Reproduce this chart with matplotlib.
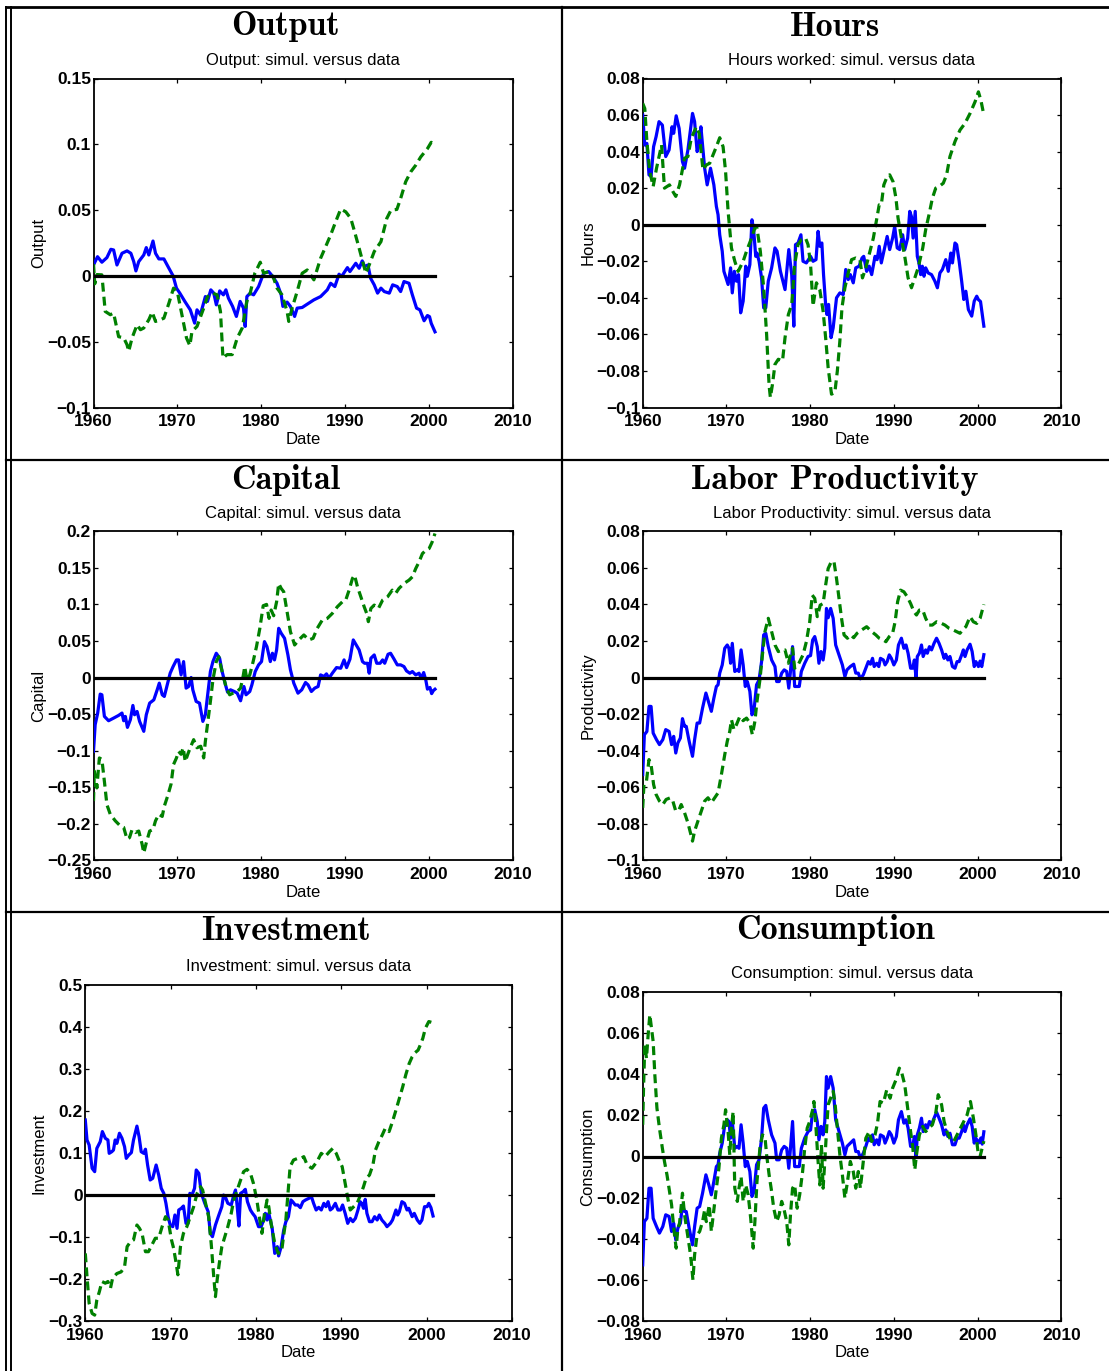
import os
import numpy as np
import matplotlib
matplotlib.use("Agg")
import matplotlib.pyplot as plt
from matplotlib.font_manager import FontProperties
from matplotlib.lines import Line2D
from matplotlib.ticker import FuncFormatter

# ---------------------------------------------------------------- data
# (year, deviation) pairs; blue = simulated model, green = data
output_sim = [
    (1960.0, 0.0083), (1960.48, 0.0146), (1961.0, 0.0104), (1961.6, 0.0139), (1962.07, 0.0202),
    (1962.4, 0.0197), (1962.8, 0.0083), (1963.4, 0.0172), (1964.0, 0.0190), (1964.46, 0.0172),
    (1964.8, 0.0109), (1965.06, 0.0038), (1965.4, 0.0109), (1966.0, 0.0159), (1966.3, 0.0215),
    (1966.6, 0.0159), (1967.1, 0.0265), (1967.4, 0.0172), (1967.8, 0.0129), (1968.4, 0.0129),
    (1969.0, 0.0058), (1969.5, 0.0000), (1969.9, -0.0093), (1970.3, -0.0131), (1970.9, -0.0194),
    (1971.55, -0.0258), (1972.07, -0.0359), (1972.35, -0.0258), (1972.75, -0.0295), (1973.35, -0.0157),
    (1973.6, -0.0194), (1974.0, -0.0106), (1974.35, -0.0131), (1974.66, -0.0220), (1975.06, -0.0114),
    (1975.5, -0.0144), (1975.8, -0.0106), (1976.1, -0.0169), (1976.6, -0.0232), (1977.05, -0.0308),
    (1977.5, -0.0194), (1977.9, -0.0245), (1978.1, -0.0384), (1978.3, -0.0157), (1978.7, -0.0131),
    (1979.1, -0.0144), (1979.7, -0.0081), (1980.3, 0.0020), (1980.9, 0.0033), (1981.4, -0.0005),
    (1981.9, -0.0056), (1982.4, -0.0144), (1982.6, -0.0232), (1983.1, -0.0199), (1983.5, -0.0232),
    (1984.0, -0.0308), (1984.3, -0.0245), (1984.9, -0.0240), (1985.5, -0.0215), (1986.3, -0.0182),
    (1987.1, -0.0157), (1987.9, -0.0106), (1988.3, -0.0056), (1988.8, -0.0081), (1989.3, 0.0013),
    (1989.6, -0.0005), (1990.3, 0.0063), (1990.6, 0.0033), (1991.3, 0.0096), (1991.7, 0.0058),
    (1992.07, 0.0114), (1992.35, 0.0071), (1992.75, 0.0083), (1993.07, -0.0018), (1993.5, -0.0068),
    (1993.9, -0.0131), (1994.3, -0.0093), (1994.7, -0.0119), (1995.3, -0.0131), (1995.7, -0.0068),
    (1996.25, -0.0081), (1996.65, -0.0119), (1997.05, -0.0043), (1997.65, -0.0056), (1998.05, -0.0144),
    (1998.55, -0.0245), (1998.95, -0.0258), (1999.45, -0.0341), (1999.85, -0.0301), (2000.1, -0.0310),
    (2000.3, -0.0360), (2000.75, -0.0425),
]
output_data = [
    (1960.0, 0.009), (1960.15, -0.006), (1960.4, 0.001), (1961.0, 0.0008), (1961.4, -0.0270),
    (1962.0, -0.0295), (1962.4, -0.0283), (1963.0, -0.0462), (1963.6, -0.0470), (1964.0, -0.0523),
    (1964.2, -0.0573), (1964.6, -0.0472), (1965.2, -0.0371), (1965.6, -0.0409), (1966.0, -0.0396),
    (1966.6, -0.0333), (1967.0, -0.0275), (1967.4, -0.0346), (1968.0, -0.0333), (1968.4, -0.0321),
    (1969.0, -0.0207), (1969.55, -0.0093), (1970.0, -0.0119), (1970.55, -0.0295), (1971.1, -0.0472),
    (1971.5, -0.0530), (1971.75, -0.0422), (1972.35, -0.0384), (1973.15, -0.0245), (1973.6, -0.0157),
    (1974.25, -0.0131), (1974.75, -0.0144), (1975.15, -0.0270), (1975.45, -0.0624), (1975.95, -0.0598),
    (1976.55, -0.0598), (1977.15, -0.0472), (1977.75, -0.0396), (1978.3, -0.0194), (1978.7, -0.0131),
    (1979.25, 0.0020), (1979.9, 0.0104), (1980.3, 0.0020), (1981.0, 0.0033), (1981.5, -0.0018),
    (1981.9, -0.0093), (1982.5, -0.0144), (1983.1, -0.0270), (1983.3, -0.0346), (1983.7, -0.0245),
    (1984.3, -0.0119), (1984.9, 0.0020), (1985.5, 0.0045), (1985.9, 0.0008), (1986.3, -0.0030),
    (1987.1, 0.0134), (1987.7, 0.0222), (1988.3, 0.0311), (1988.9, 0.0412), (1989.5, 0.0508),
    (1990.1, 0.0487), (1990.7, 0.0437), (1991.1, 0.0349), (1991.7, 0.0210), (1992.07, 0.0121),
    (1992.5, 0.0020), (1992.9, 0.0083), (1993.5, 0.0185), (1994.3, 0.0260), (1995.0, 0.0437),
    (1995.5, 0.0500), (1996.2, 0.0505), (1996.65, 0.0588), (1997.25, 0.0715), (1997.85, 0.0790),
    (1998.45, 0.0841), (1999.05, 0.0904), (1999.85, 0.0967), (2000.3, 0.1015), (2000.75, 0.0995),
]

hours_sim = [
    (1960.0, 0.060), (1960.25, 0.0436), (1960.5, 0.0445), (1960.75, 0.0273), (1961.0, 0.0264),
    (1961.3, 0.0427), (1961.6, 0.0482), (1961.95, 0.0564), (1962.35, 0.0545), (1962.75, 0.0373),
    (1963.15, 0.0409), (1963.5, 0.0536), (1963.7, 0.0500), (1964.0, 0.0596), (1964.35, 0.0527),
    (1964.75, 0.0345), (1965.0, 0.0309), (1965.4, 0.0409), (1965.95, 0.0609), (1966.2, 0.0564),
    (1966.5, 0.0400), (1966.75, 0.0445), (1966.95, 0.0536), (1967.2, 0.0409), (1967.4, 0.0309),
    (1967.7, 0.0218), (1968.1, 0.0309), (1968.5, 0.0218), (1968.8, 0.0100), (1969.0, 0.0055),
    (1969.2, -0.0055), (1969.5, -0.0145), (1969.7, -0.0255), (1970.2, -0.0327), (1970.5, -0.0236),
    (1970.7, -0.0373), (1970.95, -0.0255), (1971.2, -0.0309), (1971.45, -0.0273), (1971.7, -0.0482),
    (1972.0, -0.0418), (1972.3, -0.0227), (1972.5, -0.0282), (1972.8, -0.0218), (1973.05, 0.0027),
    (1973.25, -0.0027), (1973.5, -0.0173), (1973.65, -0.0155), (1973.9, -0.0200), (1974.2, -0.0291),
    (1974.45, -0.0455), (1974.7, -0.0455), (1975.0, -0.0309), (1975.4, -0.0236), (1975.8, -0.0127),
    (1976.05, -0.0145), (1976.45, -0.0255), (1977.0, -0.0355), (1977.45, -0.0136), (1977.8, -0.0273),
    (1978.05, -0.0555), (1978.25, -0.0109), (1978.55, -0.0100), (1978.9, -0.0055), (1979.15, -0.0200),
    (1979.55, -0.0209), (1980.05, -0.0173), (1980.35, -0.0200), (1980.7, -0.0191), (1980.95, -0.0036),
    (1981.15, -0.0118), (1981.4, -0.0100), (1981.6, -0.0273), (1981.85, -0.0436), (1982.0, -0.0491),
    (1982.2, -0.0436), (1982.5, -0.0618), (1982.75, -0.0564), (1983.15, -0.0400), (1983.55, -0.0373),
    (1983.95, -0.0382), (1984.25, -0.0245), (1984.55, -0.0300), (1984.8, -0.0273), (1985.15, -0.0318),
    (1985.45, -0.0236), (1985.85, -0.0227), (1986.2, -0.0182), (1986.4, -0.0173), (1986.75, -0.0255),
    (1987.05, -0.0227), (1987.35, -0.0273), (1987.75, -0.0173), (1988.0, -0.0191), (1988.25, -0.0118),
    (1988.5, -0.0209), (1988.85, -0.0136), (1989.2, -0.0064), (1989.5, -0.0136), (1989.85, -0.0073),
    (1990.1, -0.0009), (1990.4, -0.0127), (1990.7, -0.0136), (1991.05, -0.0055), (1991.3, -0.0136),
    (1991.65, -0.0073), (1991.9, 0.0073), (1992.1, 0.0045), (1992.3, -0.0073), (1992.55, 0.0073),
    (1992.8, -0.0173), (1993.0, -0.0209), (1993.2, -0.0273), (1993.4, -0.0227), (1993.6, -0.0282),
    (1993.8, -0.0236), (1994.1, -0.0264), (1994.5, -0.0273), (1994.9, -0.0309), (1995.2, -0.0345),
    (1995.5, -0.0264), (1995.8, -0.0245), (1996.2, -0.0191), (1996.5, -0.0255), (1996.8, -0.0155),
    (1997.0, -0.0209), (1997.3, -0.0100), (1997.5, -0.0109), (1997.8, -0.0200), (1998.1, -0.0309),
    (1998.35, -0.0409), (1998.6, -0.0364), (1998.9, -0.0464), (1999.3, -0.0500), (1999.6, -0.0418),
    (1999.9, -0.0391), (2000.1, -0.0410), (2000.35, -0.0420), (2000.75, -0.0555),
]
hours_data = [
    (1960.0, 0.0664), (1960.25, 0.0636), (1960.5, 0.0455), (1960.85, 0.0291), (1961.25, 0.0209),
    (1961.65, 0.0309), (1962.25, 0.0436), (1962.6, 0.0200), (1963.2, 0.0218), (1963.6, 0.0182),
    (1963.95, 0.0155), (1964.4, 0.0218), (1965.0, 0.0364), (1965.4, 0.0373), (1965.8, 0.0473),
    (1966.4, 0.0536), (1966.75, 0.0500), (1967.2, 0.0300), (1967.6, 0.0327), (1968.0, 0.0336),
    (1968.4, 0.0382), (1968.8, 0.0427), (1969.2, 0.0476), (1969.6, 0.0427), (1969.9, 0.0291),
    (1970.2, 0.0073), (1970.6, -0.0127), (1971.0, -0.0200), (1971.4, -0.0255), (1972.0, -0.0200),
    (1972.4, -0.0145), (1973.0, -0.0073), (1973.4, -0.0018), (1973.65, -0.0018), (1974.05, -0.0145),
    (1974.45, -0.0345), (1974.8, -0.0600), (1975.1, -0.0882), (1975.25, -0.0945), (1975.5, -0.0873),
    (1975.8, -0.0764), (1976.2, -0.0736), (1976.7, -0.0745), (1977.0, -0.0618), (1977.4, -0.0491),
    (1977.8, -0.0436), (1978.15, -0.0218), (1978.55, -0.0109), (1978.95, -0.0082), (1979.45, -0.0073),
    (1979.75, -0.0109), (1980.05, -0.0218), (1980.35, -0.0445), (1980.75, -0.0318), (1981.15, -0.0355),
    (1981.55, -0.0473), (1981.85, -0.0618), (1982.15, -0.0782), (1982.55, -0.0927), (1982.95, -0.0918),
    (1983.25, -0.0800), (1983.55, -0.0636), (1983.8, -0.0455), (1984.15, -0.0345), (1984.55, -0.0264),
    (1984.95, -0.0191), (1985.45, -0.0182), (1985.95, -0.0191), (1986.25, -0.0291), (1986.65, -0.0236),
    (1987.15, -0.0145), (1987.55, -0.0073), (1987.9, 0.0018), (1988.25, 0.0109), (1988.5, 0.0109),
    (1988.8, 0.0218), (1989.2, 0.0264), (1989.5, 0.0273), (1989.9, 0.0236), (1990.25, 0.0145),
    (1990.5, 0.0036), (1990.9, -0.0073), (1991.3, -0.0173), (1991.7, -0.0291), (1992.1, -0.0345),
    (1992.5, -0.0291), (1992.9, -0.0236), (1993.45, -0.0127), (1993.8, -0.0027), (1994.2, 0.0055),
    (1994.6, 0.0145), (1995.0, 0.0200), (1995.4, 0.0209), (1995.9, 0.0227), (1996.3, 0.0273),
    (1996.7, 0.0373), (1997.3, 0.0455), (1997.9, 0.0518), (1998.5, 0.0555), (1999.1, 0.0609),
    (1999.7, 0.0673), (2000.1, 0.0727), (2000.4, 0.0680), (2000.75, 0.0600),
]

capital_sim = [
    (1960.0, -0.101), (1960.2, -0.0645), (1960.5, -0.0486), (1960.8, -0.0227), (1961.0, -0.0236),
    (1961.3, -0.0532), (1961.8, -0.0591), (1962.4, -0.0555), (1963.0, -0.0518), (1963.4, -0.0486),
    (1963.6, -0.0591), (1963.8, -0.0532), (1964.05, -0.0682), (1964.4, -0.0577), (1964.7, -0.0382),
    (1964.9, -0.0509), (1965.2, -0.0464), (1965.5, -0.0600), (1966.0, -0.0736), (1966.3, -0.0509),
    (1966.7, -0.0350), (1967.2, -0.0305), (1967.6, -0.0168), (1967.85, -0.0077), (1968.2, -0.0236),
    (1968.45, -0.0259), (1968.85, -0.0077), (1969.15, 0.0059), (1969.5, 0.0150), (1969.9, 0.0241),
    (1970.15, 0.0241), (1970.45, 0.0036), (1970.75, 0.0218), (1971.05, -0.0145), (1971.35, -0.0123),
    (1971.65, 0.0000), (1971.85, -0.0168), (1972.25, -0.0327), (1972.65, -0.0350), (1973.05, -0.0600),
    (1973.35, -0.0509), (1973.6, -0.0259), (1973.95, 0.0082), (1974.25, 0.0218), (1974.65, 0.0332),
    (1975.05, 0.0264), (1975.35, 0.0082), (1975.75, -0.0100), (1976.0, -0.0200), (1976.35, -0.0168),
    (1976.8, -0.0191), (1977.15, -0.0214), (1977.55, -0.0318), (1977.95, -0.0123), (1978.2, -0.0236),
    (1978.65, -0.0191), (1978.9, -0.0100), (1979.3, 0.0082), (1979.7, 0.0173), (1980.05, 0.0218),
    (1980.4, 0.0491), (1980.7, 0.0423), (1981.1, 0.0218), (1981.35, 0.0332), (1981.6, 0.0241),
    (1981.85, 0.0377), (1982.1, 0.0673), (1982.4, 0.0605), (1982.8, 0.0536), (1983.2, 0.0309),
    (1983.5, 0.0105), (1983.9, -0.0077), (1984.4, -0.0214), (1984.85, -0.0168), (1985.3, -0.0068),
    (1985.6, -0.0100), (1986.0, -0.0191), (1986.4, -0.0145), (1986.8, -0.0123), (1987.1, 0.0036),
    (1987.5, 0.0014), (1987.8, 0.0050), (1988.1, -0.0009), (1988.5, 0.0059), (1989.0, 0.0136),
    (1989.5, 0.0127), (1989.9, 0.0241), (1990.2, 0.0136), (1990.6, 0.0250), (1991.0, 0.0514),
    (1991.3, 0.0455), (1991.7, 0.0377), (1992.1, 0.0218), (1992.35, 0.0195), (1992.7, 0.0195),
    (1992.9, 0.0059), (1993.1, 0.0264), (1993.5, 0.0309), (1993.8, 0.0195), (1994.2, 0.0195),
    (1994.5, 0.0241), (1994.75, 0.0195), (1995.15, 0.0318), (1995.45, 0.0332), (1995.85, 0.0255),
    (1996.25, 0.0173), (1996.65, 0.0173), (1997.05, 0.0150), (1997.35, 0.0091), (1997.75, 0.0059),
    (1998.05, 0.0082), (1998.45, 0.0036), (1998.85, 0.0059), (1999.1, -0.0009), (1999.4, 0.0068),
    (1999.65, -0.0032), (1999.85, -0.0159), (2000.15, -0.0136), (2000.35, -0.0220), (2000.55, -0.0180),
    (2000.75, -0.0160),
]
capital_data = [
    (1960.0, -0.169), (1960.1, -0.128), (1960.4, -0.151), (1960.7, -0.110), (1961.0, -0.112),
    (1961.3, -0.142), (1961.6, -0.174), (1962.0, -0.187), (1962.6, -0.196), (1963.2, -0.203),
    (1963.6, -0.205), (1964.0, -0.221), (1964.3, -0.219), (1964.6, -0.208), (1965.0, -0.212),
    (1965.4, -0.210), (1965.8, -0.228), (1966.0, -0.240), (1966.3, -0.226), (1966.7, -0.210),
    (1967.1, -0.208), (1967.4, -0.196), (1967.8, -0.187), (1968.2, -0.190), (1968.45, -0.176),
    (1968.85, -0.162), (1969.25, -0.146), (1969.55, -0.119), (1969.9, -0.110), (1970.15, -0.101),
    (1970.45, -0.105), (1970.7, -0.096), (1970.95, -0.115), (1971.25, -0.105), (1971.55, -0.096),
    (1971.95, -0.085), (1972.35, -0.096), (1972.8, -0.094), (1973.15, -0.110), (1973.35, -0.087),
    (1973.6, -0.0645), (1973.95, -0.0327), (1974.25, -0.0032), (1974.65, 0.0218), (1974.95, 0.0286),
    (1975.2, 0.0150), (1975.55, -0.0009), (1975.85, -0.0145), (1976.25, -0.0236), (1976.65, -0.0214),
    (1977.15, -0.0191), (1977.55, -0.0145), (1977.85, 0.0014), (1978.05, 0.0150), (1978.3, -0.0032),
    (1978.65, 0.0036), (1979.05, 0.0218), (1979.45, 0.0423), (1979.85, 0.0673), (1980.25, 0.0982),
    (1980.65, 0.1000), (1980.95, 0.0809), (1981.2, 0.0923), (1981.5, 0.0845), (1981.85, 0.1036),
    (1982.1, 0.1286), (1982.4, 0.1218), (1982.7, 0.1173), (1983.1, 0.0900), (1983.5, 0.0627),
    (1984.0, 0.0445), (1984.5, 0.0514), (1985.1, 0.0582), (1985.7, 0.0514), (1986.2, 0.0536),
    (1986.7, 0.0673), (1987.3, 0.0786), (1987.9, 0.0809), (1988.5, 0.0877), (1989.1, 0.0968),
    (1989.7, 0.1036), (1990.1, 0.1059), (1990.5, 0.1195), (1990.9, 0.1355), (1991.15, 0.1400),
    (1991.5, 0.1241), (1991.9, 0.1105), (1992.3, 0.0968), (1992.6, 0.0877), (1992.8, 0.0764),
    (1993.1, 0.0945), (1993.5, 0.0991), (1994.0, 0.0945), (1994.5, 0.1059), (1995.1, 0.1105),
    (1995.65, 0.1195), (1996.05, 0.1150), (1996.45, 0.1218), (1997.05, 0.1286), (1997.65, 0.1332),
    (1998.05, 0.1377), (1998.45, 0.1490), (1998.85, 0.1582), (1999.25, 0.1695), (1999.65, 0.1740),
    (2000.05, 0.1764), (2000.4, 0.1850), (2000.75, 0.1970),
]

productivity_sim = [
    (1960.0, -0.0531), (1960.2, -0.0313), (1960.5, -0.0295), (1960.75, -0.0158), (1961.0, -0.0158),
    (1961.25, -0.0304), (1961.65, -0.0340), (1962.0, -0.0367), (1962.4, -0.0340), (1962.75, -0.0285),
    (1963.15, -0.0295), (1963.45, -0.0367), (1963.7, -0.0322), (1963.95, -0.0413), (1964.2, -0.0358),
    (1964.5, -0.0331), (1964.75, -0.0225), (1965.0, -0.0267), (1965.2, -0.0267), (1965.55, -0.0349),
    (1965.95, -0.0431), (1966.2, -0.0340), (1966.5, -0.0249), (1966.8, -0.0249), (1967.15, -0.0167),
    (1967.55, -0.0085), (1967.9, -0.0140), (1968.2, -0.0185), (1968.5, -0.0113), (1968.8, -0.0049),
    (1969.0, -0.0040), (1969.2, 0.0024), (1969.5, 0.0069), (1969.8, 0.0160), (1970.1, 0.0178),
    (1970.3, 0.0160), (1970.5, 0.0078), (1970.7, 0.0187), (1971.0, 0.0033), (1971.3, 0.0042),
    (1971.5, 0.0033), (1971.75, 0.0151), (1972.0, 0.0069), (1972.25, -0.0049), (1972.5, -0.0022),
    (1972.8, -0.0076), (1973.05, -0.0204), (1973.3, -0.0176), (1973.6, -0.0040), (1973.9, -0.0013),
    (1974.2, 0.0087), (1974.45, 0.0233), (1974.7, 0.0242), (1975.0, 0.0169), (1975.4, 0.0096),
    (1975.8, 0.0060), (1976.0, -0.0022), (1976.3, -0.0022), (1976.6, 0.0024), (1976.9, 0.0042),
    (1977.2, 0.0033), (1977.45, -0.0058), (1977.65, 0.0033), (1977.9, 0.0169), (1978.15, -0.0049),
    (1978.35, -0.0049), (1978.7, -0.0049), (1978.95, 0.0033), (1979.35, 0.0078), (1979.75, 0.0115),
    (1980.05, 0.0120), (1980.3, 0.0205), (1980.55, 0.0224), (1980.85, 0.0169), (1981.05, 0.0078),
    (1981.3, 0.0142), (1981.55, 0.0096), (1981.75, 0.0160), (1981.95, 0.0378), (1982.15, 0.0327),
    (1982.45, 0.0378), (1982.75, 0.0324), (1983.05, 0.0178), (1983.45, 0.0124), (1983.85, 0.0069),
    (1984.15, 0.0005), (1984.4, 0.0042), (1984.8, 0.0060), (1985.2, 0.0073), (1985.45, 0.0024),
    (1985.75, 0.0024), (1986.0, -0.0007), (1986.35, 0.0015), (1986.65, 0.0051), (1986.95, 0.0087),
    (1987.2, 0.0073), (1987.45, 0.0105), (1987.65, 0.0060), (1987.95, 0.0078), (1988.2, 0.0060),
    (1988.4, 0.0105), (1988.75, 0.0096), (1988.95, 0.0069), (1989.2, 0.0087), (1989.45, 0.0124),
    (1989.7, 0.0105), (1990.0, 0.0069), (1990.3, 0.0096), (1990.55, 0.0178), (1990.9, 0.0215),
    (1991.2, 0.0160), (1991.45, 0.0178), (1991.7, 0.0133), (1992.0, 0.0051), (1992.25, 0.0051),
    (1992.45, 0.0096), (1992.65, -0.0004), (1992.8, 0.0115), (1993.05, 0.0133), (1993.3, 0.0178),
    (1993.5, 0.0115), (1993.8, 0.0151), (1994.0, 0.0133), (1994.25, 0.0169), (1994.5, 0.0151),
    (1994.8, 0.0187), (1995.1, 0.0215), (1995.4, 0.0187), (1995.7, 0.0151), (1996.0, 0.0105),
    (1996.2, 0.0127), (1996.45, 0.0096), (1996.7, 0.0115), (1997.0, 0.0060), (1997.3, 0.0051),
    (1997.55, 0.0087), (1997.8, 0.0087), (1998.1, 0.0124), (1998.3, 0.0151), (1998.5, 0.0115),
    (1998.75, 0.0151), (1999.1, 0.0182), (1999.35, 0.0142), (1999.6, 0.0060), (1999.8, 0.0087),
    (2000.1, 0.0060), (2000.3, 0.0090), (2000.5, 0.0060), (2000.75, 0.0125),
]
productivity_data = [
    (1960.0, -0.0713), (1960.15, -0.0585), (1960.45, -0.0567), (1960.75, -0.0449), (1961.0, -0.0476),
    (1961.3, -0.0585), (1961.6, -0.0640), (1962.0, -0.0676), (1962.4, -0.0695), (1962.8, -0.0667),
    (1963.3, -0.0658), (1963.6, -0.0676), (1963.95, -0.0731), (1964.35, -0.0722), (1964.6, -0.0695),
    (1965.0, -0.0740), (1965.4, -0.0795), (1965.7, -0.0849), (1965.95, -0.0895), (1966.2, -0.0840),
    (1966.6, -0.0785), (1967.0, -0.0731), (1967.4, -0.0676), (1967.8, -0.0658), (1968.2, -0.0685),
    (1968.6, -0.0658), (1969.0, -0.0631), (1969.4, -0.0531), (1969.8, -0.0422), (1970.1, -0.0349),
    (1970.4, -0.0295), (1970.6, -0.0231), (1970.9, -0.0285), (1971.2, -0.0258), (1971.6, -0.0213),
    (1972.0, -0.0236), (1972.4, -0.0222), (1972.8, -0.0249), (1973.1, -0.0313), (1973.4, -0.0240),
    (1973.65, -0.0131), (1974.0, -0.0013), (1974.3, 0.0124), (1974.6, 0.0251), (1975.0, 0.0324),
    (1975.4, 0.0251), (1975.8, 0.0178), (1976.2, 0.0142), (1976.6, 0.0151), (1977.0, 0.0151),
    (1977.4, 0.0078), (1977.65, 0.0124), (1977.9, 0.0160), (1978.15, 0.0051), (1978.45, 0.0060),
    (1978.75, 0.0087), (1979.15, 0.0124), (1979.55, 0.0196), (1979.95, 0.0305), (1980.25, 0.0451),
    (1980.55, 0.0433), (1980.85, 0.0333), (1981.2, 0.0396), (1981.55, 0.0405), (1981.85, 0.0505),
    (1982.15, 0.0596), (1982.55, 0.0636), (1982.85, 0.0633), (1983.15, 0.0542), (1983.45, 0.0433),
    (1983.75, 0.0324), (1984.05, 0.0233), (1984.45, 0.0215), (1984.85, 0.0233), (1985.2, 0.0218),
    (1985.6, 0.0242), (1986.15, 0.0260), (1986.75, 0.0278), (1987.35, 0.0251), (1987.85, 0.0233),
    (1988.25, 0.0215), (1988.75, 0.0205), (1989.05, 0.0196), (1989.45, 0.0224), (1989.85, 0.0242),
    (1990.15, 0.0305), (1990.45, 0.0415), (1990.8, 0.0478), (1991.2, 0.0469), (1991.6, 0.0442),
    (1992.0, 0.0405), (1992.4, 0.0360), (1992.7, 0.0342), (1993.05, 0.0369), (1993.45, 0.0369),
    (1993.8, 0.0324), (1994.2, 0.0287), (1994.6, 0.0287), (1995.1, 0.0305), (1995.7, 0.0296),
    (1996.1, 0.0287), (1996.6, 0.0269), (1997.1, 0.0260), (1997.5, 0.0251), (1997.9, 0.0242),
    (1998.2, 0.0260), (1998.6, 0.0278), (1999.1, 0.0333), (1999.5, 0.0305), (1999.9, 0.0296),
    (2000.3, 0.0324), (2000.75, 0.0400),
]

investment_sim = [
    (1960.0, 0.1786), (1960.2, 0.131), (1960.45, 0.119), (1960.8, 0.0635), (1961.1, 0.0556),
    (1961.35, 0.111), (1961.75, 0.127), (1962.0, 0.151), (1962.35, 0.135), (1962.65, 0.131),
    (1962.8, 0.0992), (1963.1, 0.103), (1963.3, 0.107), (1963.5, 0.131), (1963.7, 0.123),
    (1964.0, 0.147), (1964.3, 0.135), (1964.6, 0.115), (1964.8, 0.0873), (1965.1, 0.0952),
    (1965.4, 0.101), (1965.65, 0.131), (1966.05, 0.164), (1966.3, 0.139), (1966.55, 0.103),
    (1966.85, 0.0992), (1967.05, 0.109), (1967.3, 0.0714), (1967.6, 0.0357), (1967.9, 0.0397),
    (1968.3, 0.0714), (1968.6, 0.0476), (1968.9, 0.0159), (1969.2, 0.0040), (1969.45, -0.0198),
    (1969.7, -0.0516), (1969.95, -0.0714), (1970.25, -0.0754), (1970.5, -0.0476), (1970.75, -0.0794),
    (1970.95, -0.0357), (1971.25, -0.0317), (1971.5, -0.0262), (1971.8, -0.0675), (1972.05, -0.0675),
    (1972.25, 0.0040), (1972.5, 0.0000), (1972.8, 0.0159), (1973.0, 0.0595), (1973.3, 0.0516),
    (1973.6, 0.0040), (1974.0, -0.0198), (1974.4, -0.0397), (1974.65, -0.0913), (1974.9, -0.0992),
    (1975.25, -0.0714), (1975.65, -0.0476), (1976.0, -0.0278), (1976.2, 0.0000), (1976.4, -0.0040),
    (1976.7, -0.0198), (1977.1, -0.0238), (1977.4, 0.0000), (1977.6, 0.0119), (1977.8, -0.0278),
    (1978.0, -0.0738), (1978.2, 0.0040), (1978.5, 0.0079), (1978.75, 0.0135), (1979.0, -0.0159),
    (1979.35, -0.0357), (1979.6, -0.0437), (1979.9, -0.0516), (1980.3, -0.0754), (1980.6, -0.0754),
    (1980.9, -0.0595), (1981.1, -0.0437), (1981.3, -0.0595), (1981.5, -0.0437), (1981.9, -0.0794),
    (1982.2, -0.139), (1982.5, -0.123), (1982.65, -0.145), (1982.95, -0.123), (1983.25, -0.0833),
    (1983.5, -0.0635), (1983.8, -0.0516), (1984.1, -0.0119), (1984.3, -0.0159), (1984.6, -0.0238),
    (1984.9, -0.0238), (1985.2, -0.0302), (1985.5, -0.0159), (1985.8, -0.0119), (1986.2, -0.0079),
    (1986.5, -0.0040), (1986.75, -0.0198), (1987.05, -0.0357), (1987.35, -0.0294), (1987.65, -0.0357),
    (1987.95, -0.0198), (1988.2, -0.0278), (1988.45, -0.0159), (1988.7, -0.0357), (1988.95, -0.0317),
    (1989.3, -0.0198), (1989.6, -0.0357), (1989.9, -0.0357), (1990.15, -0.0238), (1990.45, -0.0437),
    (1990.75, -0.0675), (1991.05, -0.0556), (1991.35, -0.0635), (1991.65, -0.0556), (1991.95, -0.0357),
    (1992.2, -0.0159), (1992.4, -0.0198), (1992.6, -0.0317), (1992.8, -0.0103), (1993.0, -0.0437),
    (1993.3, -0.0635), (1993.6, -0.0635), (1993.9, -0.0516), (1994.2, -0.0595), (1994.45, -0.0476),
    (1994.75, -0.0595), (1995.1, -0.0675), (1995.35, -0.0754), (1995.75, -0.0675), (1996.0, -0.0595),
    (1996.4, -0.0357), (1996.6, -0.0476), (1996.8, -0.0397), (1997.1, -0.0159), (1997.4, -0.0198),
    (1997.7, -0.0357), (1997.9, -0.0317), (1998.3, -0.0516), (1998.55, -0.0437), (1998.9, -0.0595),
    (1999.2, -0.0675), (1999.45, -0.0595), (1999.75, -0.0278), (2000.05, -0.0278), (2000.25, -0.0198),
    (2000.5, -0.0300), (2000.75, -0.0500),
]
investment_data = [
    (1960.0, -0.139), (1960.2, -0.194), (1960.45, -0.258), (1960.8, -0.282), (1961.1, -0.286),
    (1961.35, -0.250), (1961.65, -0.230), (1961.95, -0.206), (1962.35, -0.210), (1962.65, -0.206),
    (1962.95, -0.222), (1963.2, -0.198), (1963.7, -0.187), (1964.2, -0.183), (1964.6, -0.171),
    (1964.9, -0.123), (1965.3, -0.111), (1965.65, -0.107), (1966.05, -0.0714), (1966.35, -0.0794),
    (1966.65, -0.0913), (1967.05, -0.135), (1967.4, -0.135), (1967.8, -0.119), (1968.2, -0.103),
    (1968.6, -0.103), (1969.0, -0.0754), (1969.4, -0.0516), (1969.7, -0.0595), (1970.1, -0.107),
    (1970.35, -0.127), (1970.65, -0.163), (1970.85, -0.190), (1971.15, -0.123), (1971.5, -0.0913),
    (1971.9, -0.0754), (1972.3, -0.0516), (1972.7, -0.0278), (1973.1, 0.0040), (1973.5, 0.0198),
    (1973.75, 0.0119), (1974.05, -0.0159), (1974.45, -0.0516), (1974.75, -0.115), (1975.05, -0.194),
    (1975.25, -0.242), (1975.45, -0.202), (1975.7, -0.163), (1976.0, -0.123), (1976.35, -0.0992),
    (1976.7, -0.0754), (1977.1, -0.0437), (1977.4, -0.0119), (1977.8, 0.0119), (1978.2, 0.0357),
    (1978.55, 0.0556), (1978.95, 0.0611), (1979.35, 0.0516), (1979.7, 0.0278), (1980.1, -0.0119),
    (1980.45, -0.0595), (1980.7, -0.0913), (1981.0, -0.0437), (1981.3, -0.0119), (1981.5, -0.0278),
    (1981.8, -0.0714), (1982.2, -0.115), (1982.6, -0.139), (1983.0, -0.135), (1983.25, -0.0952),
    (1983.5, -0.0595), (1983.75, 0.0040), (1984.0, 0.0675), (1984.4, 0.0833), (1984.9, 0.0873),
    (1985.3, 0.0873), (1985.6, 0.0913), (1986.0, 0.0714), (1986.55, 0.0635), (1987.15, 0.0794),
    (1987.65, 0.0992), (1988.1, 0.0913), (1988.6, 0.103), (1989.0, 0.111), (1989.4, 0.0992),
    (1989.8, 0.0794), (1990.1, 0.0675), (1990.45, 0.0278), (1990.8, -0.0119), (1991.05, -0.0357),
    (1991.45, -0.0278), (1991.85, -0.0198), (1992.25, 0.0000), (1992.6, 0.0198), (1992.9, 0.0397),
    (1993.3, 0.0476), (1993.7, 0.0714), (1994.0, 0.107), (1994.4, 0.127), (1994.8, 0.143),
    (1995.15, 0.159), (1995.6, 0.151), (1996.0, 0.175), (1996.4, 0.202), (1996.8, 0.230),
    (1997.2, 0.258), (1997.55, 0.286), (1997.95, 0.313), (1998.3, 0.329), (1998.65, 0.339),
    (1999.0, 0.345), (1999.25, 0.357), (1999.55, 0.373), (1999.85, 0.397), (2000.25, 0.413),
    (2000.75, 0.410),
]

consumption_sim = [
    (1960.0, -0.0526), (1960.2, -0.0316), (1960.5, -0.0300), (1960.75, -0.0154), (1961.0, -0.0154),
    (1961.25, -0.0300), (1961.65, -0.0340), (1962.0, -0.0372), (1962.4, -0.0340), (1962.75, -0.0283),
    (1963.15, -0.0291), (1963.45, -0.0364), (1963.7, -0.0324), (1963.95, -0.0405), (1964.2, -0.0348),
    (1964.5, -0.0324), (1964.75, -0.0235), (1965.0, -0.0267), (1965.2, -0.0267), (1965.55, -0.0348),
    (1965.95, -0.0429), (1966.2, -0.0340), (1966.5, -0.0251), (1966.8, -0.0243), (1967.15, -0.0178),
    (1967.55, -0.0089), (1967.9, -0.0138), (1968.2, -0.0186), (1968.5, -0.0121), (1968.8, -0.0049),
    (1969.0, -0.0040), (1969.2, 0.0016), (1969.5, 0.0065), (1969.8, 0.0154), (1970.1, 0.0178),
    (1970.3, 0.0170), (1970.5, 0.0089), (1970.7, 0.0170), (1971.0, 0.0040), (1971.3, 0.0049),
    (1971.5, 0.0040), (1971.75, 0.0154), (1972.0, 0.0065), (1972.25, -0.0049), (1972.5, -0.0024),
    (1972.8, -0.0073), (1973.05, -0.0194), (1973.3, -0.0170), (1973.6, -0.0040), (1973.9, -0.0016),
    (1974.2, 0.0089), (1974.45, 0.0235), (1974.7, 0.0248), (1975.0, 0.0178), (1975.4, 0.0105),
    (1975.8, 0.0065), (1976.0, -0.0016), (1976.3, -0.0016), (1976.6, 0.0032), (1976.9, 0.0049),
    (1977.2, 0.0040), (1977.45, -0.0057), (1977.65, 0.0040), (1977.9, 0.0170), (1978.15, -0.0049),
    (1978.35, -0.0049), (1978.7, -0.0049), (1978.95, 0.0040), (1979.35, 0.0089), (1979.75, 0.0121),
    (1980.05, 0.0129), (1980.3, 0.0218), (1980.55, 0.0227), (1980.85, 0.0170), (1981.05, 0.0081),
    (1981.3, 0.0146), (1981.55, 0.0105), (1981.75, 0.0170), (1981.95, 0.0388), (1982.15, 0.0332),
    (1982.45, 0.0388), (1982.75, 0.0332), (1983.05, 0.0178), (1983.45, 0.0121), (1983.85, 0.0065),
    (1984.15, 0.0008), (1984.4, 0.0049), (1984.8, 0.0065), (1985.2, 0.0081), (1985.45, 0.0024),
    (1985.75, 0.0024), (1986.0, -0.0008), (1986.35, 0.0016), (1986.65, 0.0049), (1986.95, 0.0089),
    (1987.2, 0.0076), (1987.45, 0.0105), (1987.65, 0.0057), (1987.95, 0.0081), (1988.2, 0.0057),
    (1988.4, 0.0105), (1988.75, 0.0097), (1988.95, 0.0065), (1989.2, 0.0089), (1989.45, 0.0121),
    (1989.7, 0.0105), (1990.0, 0.0065), (1990.3, 0.0097), (1990.55, 0.0178), (1990.9, 0.0218),
    (1991.2, 0.0162), (1991.45, 0.0178), (1991.7, 0.0138), (1992.0, 0.0049), (1992.25, 0.0049),
    (1992.45, 0.0097), (1992.65, 0.0000), (1992.8, 0.0105), (1993.05, 0.0138), (1993.3, 0.0186),
    (1993.5, 0.0121), (1993.8, 0.0154), (1994.0, 0.0138), (1994.25, 0.0170), (1994.5, 0.0154),
    (1994.8, 0.0186), (1995.1, 0.0215), (1995.4, 0.0186), (1995.7, 0.0154), (1996.0, 0.0105),
    (1996.2, 0.0129), (1996.45, 0.0097), (1996.7, 0.0113), (1997.0, 0.0057), (1997.3, 0.0057),
    (1997.55, 0.0089), (1997.8, 0.0089), (1998.1, 0.0121), (1998.3, 0.0154), (1998.5, 0.0121),
    (1998.75, 0.0154), (1999.1, 0.0183), (1999.35, 0.0146), (1999.6, 0.0065), (1999.8, 0.0089),
    (2000.1, 0.0065), (2000.4, 0.0090), (2000.55, 0.0060), (2000.75, 0.0120),
]
consumption_data = [
    (1960.0, 0.0154), (1960.1, 0.0332), (1960.25, 0.0542), (1960.45, 0.0477), (1960.65, 0.0591),
    (1960.85, 0.0688), (1961.05, 0.0623), (1961.25, 0.0558), (1961.45, 0.0396), (1961.7, 0.0235),
    (1962.0, 0.0138), (1962.35, 0.0040), (1962.6, -0.0024), (1962.9, -0.0089), (1963.15, -0.0154),
    (1963.45, -0.0235), (1963.6, -0.0300), (1963.8, -0.0380), (1964.0, -0.0445), (1964.2, -0.0348),
    (1964.4, -0.0324), (1964.75, -0.0178), (1965.0, -0.0283), (1965.3, -0.0364), (1965.6, -0.0445),
    (1965.8, -0.0510), (1966.0, -0.0599), (1966.2, -0.0477), (1966.5, -0.0380), (1966.8, -0.0364),
    (1967.15, -0.0316), (1967.4, -0.0259), (1967.6, -0.0316), (1967.95, -0.0235), (1968.2, -0.0364),
    (1968.5, -0.0259), (1968.8, -0.0154), (1969.1, -0.0057), (1969.4, 0.0089), (1969.7, 0.0154),
    (1969.9, 0.0227), (1970.2, 0.0121), (1970.4, 0.0008), (1970.6, 0.0138), (1970.8, 0.0218),
    (1971.0, -0.0154), (1971.3, -0.0218), (1971.5, -0.0154), (1971.75, -0.0097), (1972.0, -0.0218),
    (1972.3, -0.0138), (1972.6, -0.0186), (1972.9, -0.0300), (1973.2, -0.0445), (1973.4, -0.0316),
    (1973.65, -0.0121), (1974.0, 0.0040), (1974.3, 0.0105), (1974.6, 0.0097), (1974.8, 0.0008),
    (1975.1, -0.0089), (1975.4, -0.0170), (1975.65, -0.0251), (1976.0, -0.0316), (1976.3, -0.0283),
    (1976.6, -0.0218), (1976.85, -0.0251), (1977.2, -0.0316), (1977.45, -0.0429), (1977.65, -0.0283),
    (1977.9, -0.0154), (1978.15, -0.0138), (1978.45, -0.0251), (1978.75, -0.0186), (1979.1, -0.0073),
    (1979.35, 0.0040), (1979.65, 0.0138), (1979.95, 0.0170), (1980.3, 0.0227), (1980.45, 0.0267),
    (1980.7, 0.0138), (1980.95, -0.0024), (1981.15, -0.0138), (1981.35, 0.0057), (1981.55, -0.0154),
    (1981.75, -0.0024), (1981.95, 0.0121), (1982.15, 0.0251), (1982.45, 0.0283), (1982.75, 0.0316),
    (1982.95, 0.0267), (1983.25, 0.0138), (1983.55, 0.0008), (1983.85, -0.0089), (1984.15, -0.0202),
    (1984.4, -0.0138), (1984.8, -0.0024), (1985.15, -0.0073), (1985.45, -0.0154), (1985.75, -0.0073),
    (1986.0, -0.0154), (1986.35, -0.0024), (1986.65, 0.0089), (1987.05, 0.0121), (1987.35, 0.0073),
    (1987.75, 0.0105), (1988.05, 0.0162), (1988.35, 0.0267), (1988.75, 0.0259), (1989.15, 0.0324),
    (1989.55, 0.0283), (1989.85, 0.0332), (1990.25, 0.0372), (1990.65, 0.0429), (1990.9, 0.0413),
    (1991.3, 0.0348), (1991.7, 0.0218), (1992.0, 0.0121), (1992.25, 0.0049), (1992.5, -0.0065),
    (1992.7, 0.0008), (1993.05, 0.0105), (1993.45, 0.0146), (1993.8, 0.0121), (1994.2, 0.0138),
    (1994.6, 0.0154), (1995.0, 0.0210), (1995.3, 0.0300), (1995.7, 0.0251), (1996.0, 0.0170),
    (1996.35, 0.0121), (1996.75, 0.0081), (1997.15, 0.0073), (1997.55, 0.0105), (1997.95, 0.0138),
    (1998.35, 0.0170), (1998.75, 0.0202), (1999.15, 0.0267), (1999.5, 0.0186), (1999.8, 0.0105),
    (2000.1, 0.0008), (2000.3, 0.0000), (2000.75, 0.0075),
]

year_ticks = [1960, 1970, 1980, 1990, 2000, 2010]
output_ticks = [-0.1, -0.05, 0, 0.05, 0.1, 0.15]
hours_ticks = [-0.1, -0.08, -0.06, -0.04, -0.02, 0, 0.02, 0.04, 0.06, 0.08]
capital_ticks = [-0.25, -0.2, -0.15, -0.1, -0.05, 0, 0.05, 0.1, 0.15, 0.2]
productivity_ticks = [-0.1, -0.08, -0.06, -0.04, -0.02, 0, 0.02, 0.04, 0.06, 0.08]
investment_ticks = [-0.3, -0.2, -0.1, 0, 0.1, 0.2, 0.3, 0.4, 0.5]
consumption_ticks = [-0.08, -0.06, -0.04, -0.02, 0, 0.02, 0.04, 0.06, 0.08]

# ---------------------------------------------------------------- layout
W, H, DPI = 1109, 1371, 100
fig = plt.figure(figsize=(W / DPI, H / DPI), dpi=DPI)
fig.patch.set_facecolor("white")


def fx(px):
    return px / W


def fy(py):
    return 1.0 - py / H


SANS = "Liberation Sans"
cm_path = os.path.join(matplotlib.get_data_path(), "fonts", "ttf", "cmb10.ttf")
title_font = FontProperties(fname=cm_path, size=24.5)

BLUE = (0.0, 0.0, 1.0)
GREEN = (0.0, 0.5, 0.0)


def tick_fmt(v, _pos):
    if abs(v) < 1e-12:
        return "0"
    return ("%g" % v).replace("-", "\u2212")


panels = [
    dict(title="Output", sub="Output: simul. versus data", ylab="Output",
         sim=output_sim, dat=output_data, ticks=output_ticks,
         box=(93.5, 78.5, 512.5, 407.5), col=285.5, tbase=35.5, sbase=65, dbase=444.5, ylx=39),
    dict(title="Hours", sub="Hours worked: simul. versus data", ylab="Hours",
         sim=hours_sim, dat=hours_data, ticks=hours_ticks,
         box=(642.7, 78.5, 1061.3, 407.5), col=835, tbase=35.5, sbase=65, dbase=444.5, ylx=588),
    dict(title="Capital", sub="Capital: simul. versus data", ylab="Capital",
         sim=capital_sim, dat=capital_data, ticks=capital_ticks,
         box=(93.5, 531.3, 512.5, 860.3), col=285.5, tbase=488.5, sbase=518.3, dbase=897, ylx=39),
    dict(title="Labor Productivity", sub="Labor Productivity: simul. versus data", ylab="Productivity",
         sim=productivity_sim, dat=productivity_data, ticks=productivity_ticks,
         box=(642.7, 531.3, 1061.3, 860.3), col=835, tbase=488.5, sbase=518.3, dbase=897, ylx=588),
    dict(title="Investment", sub="Investment: simul. versus data", ylab="Investment",
         sim=investment_sim, dat=investment_data, ticks=investment_ticks,
         box=(85.3, 985.0, 512.0, 1321.0), col=285.5, tbase=939.5, sbase=970.7, dbase=1356.7, ylx=39),
    dict(title="Consumption", sub="Consumption: simul. versus data", ylab="Consumption",
         sim=consumption_sim, dat=consumption_data, ticks=consumption_ticks,
         box=(642.7, 991.7, 1061.3, 1321.3), col=835, tbase=939.5, sbase=978.3, dbase=1356.7, ylx=588),
]

for p in panels:
    x0, y0, x1, y1 = p["box"]
    ax = fig.add_axes([fx(x0), fy(y1), fx(x1) - fx(x0), fy(y0) - fy(y1)])

    ts, vs = np.array(p["sim"]).T
    td, vd = np.array(p["dat"]).T
    ax.plot(ts, vs, color=BLUE, lw=2.3, solid_joinstyle="round", zorder=3)
    ax.plot(td, vd, color=GREEN, lw=2.3, linestyle=(0, (2.8, 1.6)), zorder=3)
    ax.plot([ts[0], ts[-1]], [0, 0], color="black", lw=2.3, zorder=4)

    ax.set_xlim(year_ticks[0], year_ticks[-1])
    ax.set_ylim(p["ticks"][0], p["ticks"][-1])
    ax.set_xticks(year_ticks)
    ax.set_yticks(p["ticks"])
    ax.yaxis.set_major_formatter(FuncFormatter(tick_fmt))
    ax.xaxis.set_major_formatter(FuncFormatter(lambda v, _p: "%d" % v))
    ax.tick_params(direction="in", length=3.0, width=0.9, top=True, right=True,
                   labelsize=12.5, colors="black")
    ax.tick_params(axis="x", pad=4.8)
    ax.tick_params(axis="y", pad=1.8)
    for lab in ax.get_xticklabels() + ax.get_yticklabels():
        lab.set_fontfamily(SANS)
        lab.set_fontweight("bold")
    for sp in ax.spines.values():
        sp.set_linewidth(1.3)
        sp.set_color("black")

    cx = (x0 + x1) / 2.0
    fig.text(fx(p["col"]), fy(p["tbase"]), p["title"], fontproperties=title_font,
             ha="center", va="baseline")
    fig.text(fx(cx), fy(p["sbase"]), p["sub"], family=SANS, fontsize=12,
             ha="center", va="baseline")
    fig.text(fx(cx), fy(p["dbase"]), "Date", family=SANS, fontsize=12,
             ha="center", va="baseline")
    fig.text(fx(p["ylx"]), fy((y0 + y1) / 2.0), p["ylab"], family=SANS, fontsize=12,
             rotation=90, ha="center", va="center")

# table rules around the panels
rules = [
    ((5.5, 7.0), (1109, 7.0), 2.0),
    ((6.3, 7.0), (6.3, 1371), 1.4),
    ((11.0, 7.0), (11.0, 1371), 1.4),
    ((561.8, 7.0), (561.8, 1371), 1.6),
    ((5.5, 460.3), (1109, 460.3), 1.6),
    ((5.5, 912.3), (1109, 912.3), 1.6),
]
for (ax0, ay0), (ax1, ay1), lw in rules:
    fig.add_artist(Line2D([fx(ax0), fx(ax1)], [fy(ay0), fy(ay1)], color="black", lw=lw))

fig.savefig("out.png", dpi=DPI, facecolor="white")
